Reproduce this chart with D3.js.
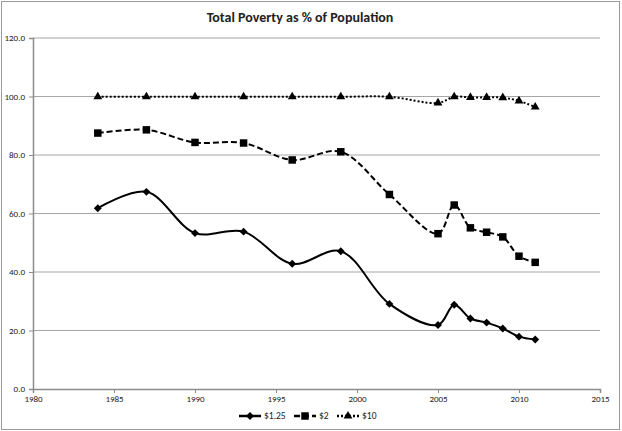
<!DOCTYPE html>
<html>
<head>
<meta charset="utf-8">
<script src="https://cdn.jsdelivr.net/npm/d3@7"></script>
<style>
  body { margin: 0; background: #fff; }
  text { font-family: Carlito, Lato, "Open Sans", sans-serif; fill: #222; }
</style>
</head>
<body>
<script>
// years on the x axis
const years = [1984, 1987, 1990, 1993, 1996, 1999, 2002, 2005, 2006, 2007, 2008, 2009, 2010, 2011];

// poverty headcount at each line
const pov125 = [61.8, 67.4, 53.3, 53.8, 42.8, 47.1, 29.1, 21.9, 28.8, 24.1, 22.7, 20.7, 17.9, 16.9];
const pov2   = [87.5, 88.6, 84.3, 84.1, 78.3, 81.1, 66.5, 53.1, 62.9, 55.1, 53.6, 52.0, 45.4, 43.3];
const pov10  = [99.9, 99.9, 99.9, 99.9, 99.9, 99.9, 99.9, 97.8, 99.9, 99.7, 99.7, 99.6, 98.5, 96.4];

const seriesNames = ["$1.25", "$2", "$10"];
const xTicks = [1980, 1985, 1990, 1995, 2000, 2005, 2010, 2015];
const yTicks = [0, 20, 40, 60, 80, 100, 120];

const W = 622, H = 431;
const margin = { top: 38, right: 22, bottom: 42, left: 33 };

const svg = d3.select("body").append("svg")
  .attr("width", W)
  .attr("height", H);

// chart border
svg.append("rect")
  .attr("x", 1.5).attr("y", 1.5)
  .attr("width", W - 4).attr("height", H - 3)
  .attr("fill", "#fff")
  .attr("stroke", "#9a9a9a");

const x = d3.scaleLinear().domain([1980, 2015]).range([margin.left, W - margin.right]);
const y = d3.scaleLinear().domain([0, 120]).range([H - margin.bottom, margin.top]);

// gridlines
svg.append("g")
  .selectAll("line")
  .data(yTicks.slice(1))
  .join("line")
  .attr("x1", x(1980)).attr("x2", x(2015))
  .attr("y1", d => y(d)).attr("y2", d => y(d))
  .attr("stroke", "#a6a6a6")
  .attr("stroke-width", 1);

// y axis
const yAxis = svg.append("g")
  .attr("transform", "translate(" + x(1980) + ",0)")
  .call(d3.axisLeft(y).tickValues(yTicks).tickFormat(d3.format(".1f")).tickSize(4).tickPadding(4));

// x axis
const xAxis = svg.append("g")
  .attr("transform", "translate(0," + y(0) + ")")
  .call(d3.axisBottom(x).tickValues(xTicks).tickFormat(d3.format("d")).tickSize(4).tickPadding(3));

[yAxis, xAxis].forEach(a => {
  a.select(".domain").attr("stroke", "#8c8c8c").attr("stroke-width", 1.5);
  a.selectAll(".tick line").attr("stroke", "#8c8c8c");
  a.selectAll("text").attr("font-size", "9px").attr("fill", "#222")
    .attr("font-family", "Carlito, Lato, sans-serif");
});

// title
svg.append("text")
  .attr("x", 300).attr("y", 22)
  .attr("text-anchor", "middle")
  .attr("font-size", "14px")
  .attr("font-weight", "bold")
  .text("Total Poverty as % of Population");

const series = [
  { name: seriesNames[0], values: pov125, dash: null, marker: d3.symbolDiamond2, size: 40 },
  { name: seriesNames[1], values: pov2, dash: "6,3", marker: d3.symbolSquare, size: 56 },
  { name: seriesNames[2], values: pov10, dash: "2,2", marker: d3.symbolTriangle, size: 34 }
];

const line = d3.line()
  .x(d => x(d[0]))
  .y(d => y(d[1]))
  .curve(d3.curveCatmullRom.alpha(0.5));

series.forEach(s => {
  const pts = years.map((yr, i) => [yr, s.values[i]]);
  svg.append("path")
    .datum(pts)
    .attr("fill", "none")
    .attr("stroke", "#000")
    .attr("stroke-width", 2)
    .attr("stroke-dasharray", s.dash)
    .attr("d", line);
  svg.append("g")
    .selectAll("path")
    .data(pts)
    .join("path")
    .attr("transform", d => "translate(" + x(d[0]) + "," + y(d[1]) + ")")
    .attr("d", d3.symbol().type(s.marker).size(s.size))
    .attr("fill", "#000");
});

// legend
const legendX = [239, 294, 337];
const legend = svg.append("g");
series.forEach((s, i) => {
  const g = legend.append("g").attr("transform", "translate(" + legendX[i] + ",416)");
  g.append("line")
    .attr("x1", 0).attr("x2", 22)
    .attr("stroke", "#000")
    .attr("stroke-width", 2.5)
    .attr("stroke-dasharray", s.dash);
  g.append("path")
    .attr("transform", "translate(11,0)")
    .attr("d", d3.symbol().type(s.marker).size(s.size))
    .attr("fill", "#000");
  g.append("text")
    .attr("x", 25).attr("y", 3)
    .attr("font-size", "9.5px")
    .text(s.name);
});
</script>
</body>
</html>
